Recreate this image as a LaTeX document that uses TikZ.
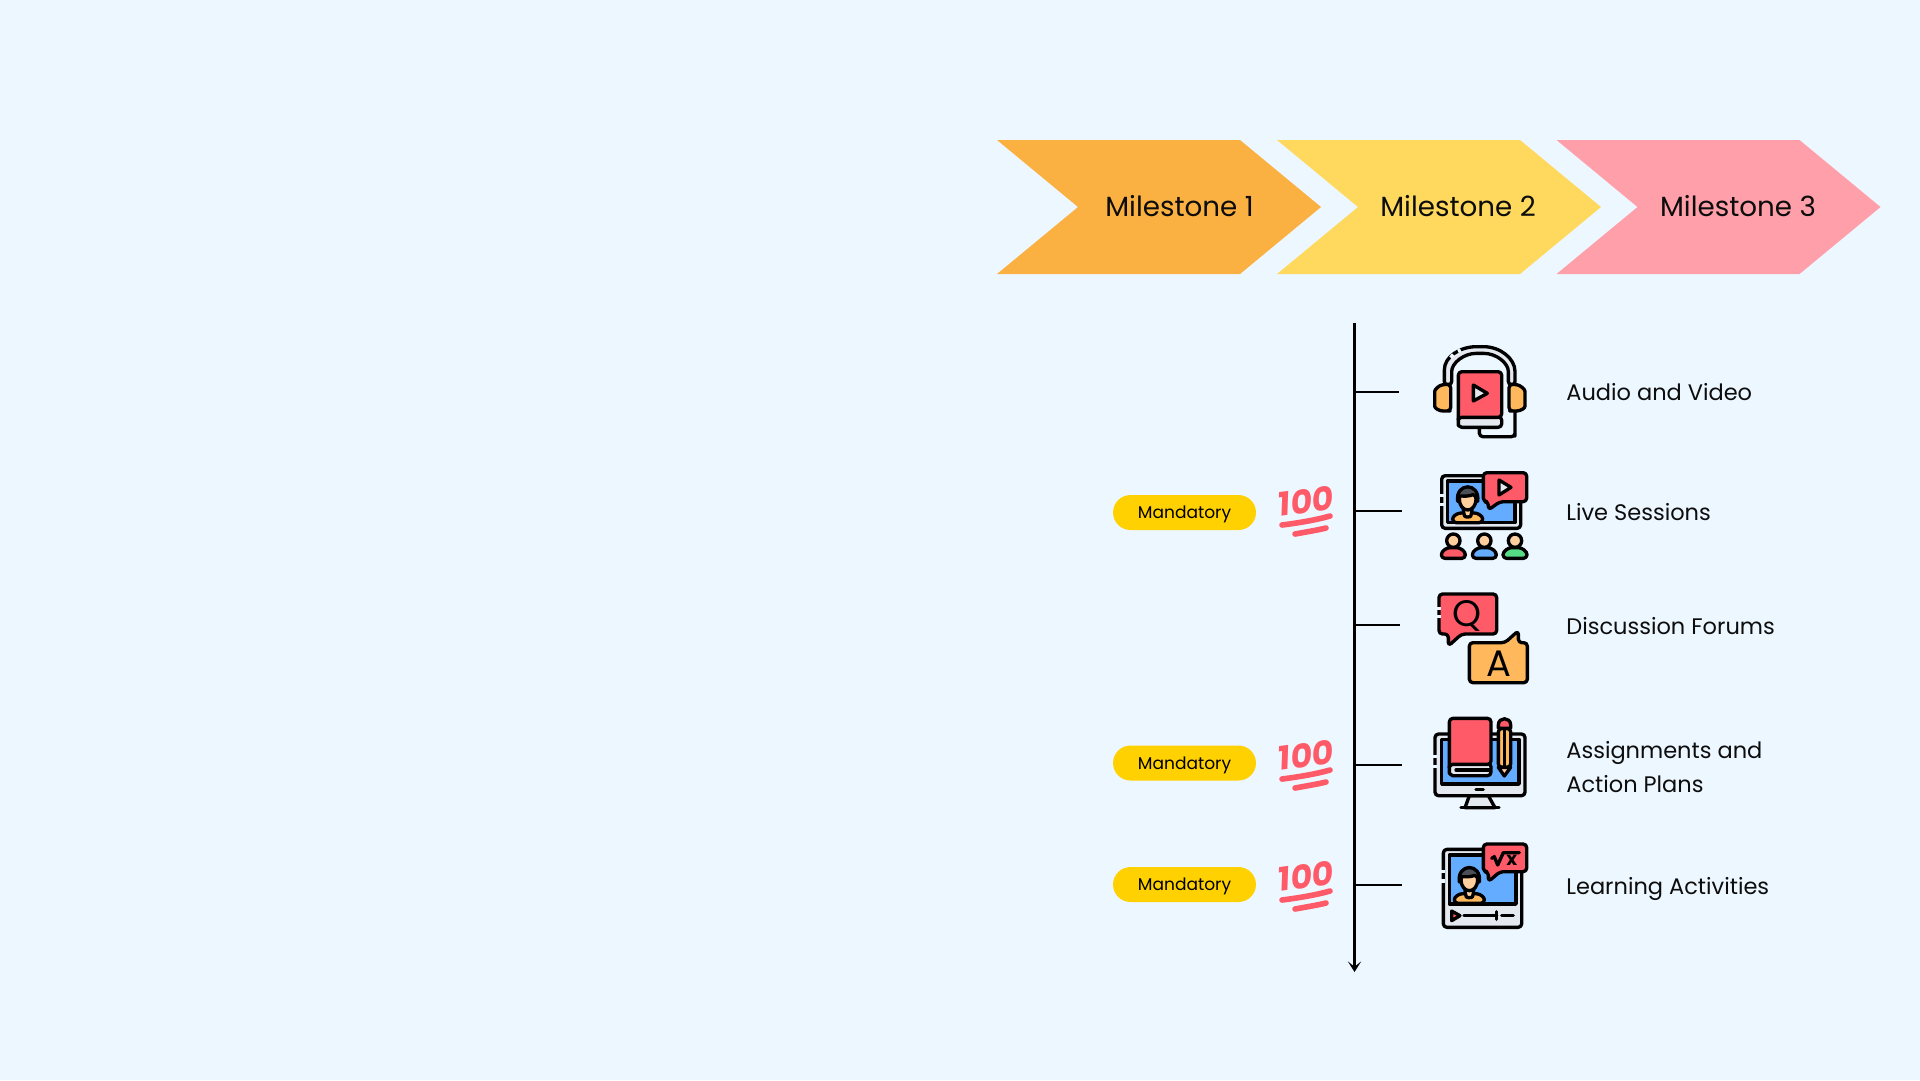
\documentclass[tikz,border=0pt]{standalone}
\usepackage{fontspec}
\setmainfont{Poppins}
\usepackage{xcolor}
\usetikzlibrary{arrows.meta, positioning}
\definecolor{mybackground}{RGB}{237, 247, 255}
\definecolor{myorange}{RGB}{250, 177, 65}
\definecolor{myyellow}{RGB}{255, 217, 94}
\definecolor{mypink}{RGB}{255, 159, 170}
\definecolor{mypill}{RGB}{255, 209, 0}
\definecolor{myred}{RGB}{255, 90, 103}
\definecolor{myamber}{RGB}{255, 184, 92}
\definecolor{myblue}{RGB}{100, 172, 255}
\definecolor{mygreen}{RGB}{85, 220, 133}
\definecolor{mygrey}{RGB}{228, 232, 239}
\definecolor{myskin}{RGB}{255, 207, 158}
\definecolor{myhair}{RGB}{74, 79, 87}
\tikzset{
    icon/.style={draw=black, line width=1.9pt, line join=round, line cap=round, rounded corners=2pt},
    sharp/.style={icon, rounded corners=0pt},
    gapline/.style={draw=#1, line width=2.2pt},
    label/.style={anchor=west, align=left, font=\fontsize{12.8}{19}\selectfont, inner sep=0pt, text=black!95},
    milestone/.style={font=\fontsize{15.8}{18}\selectfont, inner sep=0pt, text=black!95},
    pill/.style={fill=mypill, rounded corners=0.35cm, minimum width=2.86cm, minimum height=0.7cm, inner sep=0pt, text height=8.6pt, text depth=1.6pt, font=\fontsize{9.7}{12}\selectfont},
    hundred/.pic={
        \node[rotate=8, text=myred, inner sep=0pt, font=\fontsize{19}{20}\selectfont\bfseries\itshape] (-digits) at (0,-9) {100};
        \draw[myred, line width=3.2pt, line cap=round] (-24,15) .. controls (-8,13) and (10,10) .. (24,6);
        \draw[myred, line width=3.2pt, line cap=round] (-11,24) .. controls (0,22) and (12,20) .. (20,18);
    },
    bust/.pic={
        \draw[icon, fill=myamber] (-45,70) .. controls (-45,50) and (-32,43) .. (-15,40) -- (15,40) .. controls (32,43) and (45,50) .. (45,70) -- cycle;
        \draw[icon, fill=myskin] (-13,22) -- (-13,40) .. controls (-8,54) and (8,54) .. (13,40) -- (13,22) -- cycle;
        \draw[sharp, fill=myskin] (0,0) ellipse (25 and 32);
        \draw[sharp, fill=myhair] (-30,6) .. controls (-38,-52) and (38,-52) .. (30,6) .. controls (28,-6) and (22,-12) .. (16,-14) .. controls (2,-8) and (-12,-10) .. (-22,-10) .. controls (-26,-6) and (-28,0) .. (-30,6) -- cycle;
    }
}

\begin{document}
\begin{tikzpicture}[x=0.02cm, y=-0.02cm]

    % Background
    \fill[mybackground] (0,0) rectangle (1920,1080);

    % Chevrons
    \foreach \cx/\cc in {997/myorange, 1277/myyellow, 1556.5/mypink} {
        \fill[\cc] (\cx,140) -- ++(243,0) -- ++(81,67) -- ++(-81,67) -- ++(-243,0) -- ++(81,-67) -- cycle;
    }
    \node[milestone] (milestone1) at (1179.5,206) {Milestone 1};
    \node[milestone] (milestone2) at (1458,206) {Milestone 2};
    \node[milestone] (milestone3) at (1738,206) {Milestone 3};

    % Timeline
    \coordinate (axistop) at (1354.5,323);
    \coordinate (axisend) at (1354.5,972);
    \draw[line width=1.6pt, -{Stealth[length=6pt, width=7.5pt, inset=3pt]}] (axistop) -- (axisend);

    \coordinate (tickstart1) at (1354.5,392);
    \coordinate (tickend1) at (1399,392);
    \coordinate (tickstart2) at (1354.5,511);
    \coordinate (tickend2) at (1402,511);
    \coordinate (tickstart3) at (1354.5,625);
    \coordinate (tickend3) at (1400,625);
    \coordinate (tickstart4) at (1354.5,765);
    \coordinate (tickend4) at (1402,765);
    \coordinate (tickstart5) at (1354.5,885);
    \coordinate (tickend5) at (1402,885);
    \foreach \t in {1,...,5} {
        \draw[line width=1pt] (tickstart\t) -- (tickend\t);
    }

    % Labels
    \node[label] (audio) at (1566,392) {Audio and Video};
    \node[label] (live) at (1566,512) {Live Sessions};
    \node[label] (forums) at (1566,626) {Discussion Forums};
    \node[label] (assignments) at (1566,767) {Assignments and\\Action Plans};
    \node[label] (activities) at (1566,888.5) {Learning Activities};

    % Mandatory marks
    \node[pill] (mandatory1) at (1184.5,512.5) {Mandatory};
    \node[pill] (mandatory2) at (1184.5,763) {Mandatory};
    \node[pill] (mandatory3) at (1184.5,884.5) {Mandatory};
    \pic at (1306,510) {hundred};
    \pic at (1306,764) {hundred};
    \pic at (1306,885) {hundred};

    % Headphones and book
    \begin{scope}[shift={(1400,320)}, scale=1/3]
        \draw[icon, fill=mygrey] (133,195) -- (133,160) .. controls (133,110) and (180,80) .. (240,80) .. controls (300,80) and (345,115) .. (345,165) -- (345,195) -- (325,195) -- (325,165) .. controls (325,130) and (290,100) .. (240,100) .. controls (190,100) and (155,130) .. (155,165) -- (155,195) -- cycle;
        \draw[gapline=mybackground] (152,113) -- (160,104);
        \draw[gapline=mybackground] (174,94) -- (182,90);
        \draw[icon] (345,270) -- (345,338) -- (345,350) -- (238,350) -- (238,322);
        \draw[icon, fill=myamber] (152,193) -- (140,193) .. controls (118,195) and (104,208) .. (104,225) -- (104,248) .. controls (104,265) and (118,273) .. (140,273) -- (152,273) -- cycle;
        \draw[icon, fill=myamber] (327,193) -- (339,193) .. controls (361,195) and (375,208) .. (375,225) -- (375,248) .. controls (375,265) and (361,273) .. (339,273) -- (327,273) -- cycle;
        \draw[icon, fill=mygrey] (305,290) -- (196,290) .. controls (182,290) and (175,297) .. (175,306) .. controls (175,315) and (182,322) .. (196,322) -- (305,322) -- cycle;
        \draw[icon, fill=myred] (175,306) -- (175,155) -- (305,155) -- (305,292) -- (196,292) .. controls (182,292) and (175,297) .. (175,306) -- cycle;
        \draw[sharp, fill=mygrey] (220,195) -- (262,220) -- (220,243) -- cycle;
    \end{scope}

    % Live session screen
    \begin{scope}[shift={(1400,450)}, scale=1/3]
        \draw[icon, fill=mygrey] (125,77) rectangle (362,235);
        \draw[gapline=mybackground] (125,133) -- (125,142);
        \draw[gapline=mybackground] (125,158) -- (125,167);
        \draw[sharp, fill=myblue] (142,93) rectangle (345,218);
        \pic[transform shape] at (203,148) {bust};
        \draw[icon, fill=myred] (250,68) -- (380,68) -- (380,155) -- (300,155) -- (265,180) -- (265,155) -- (250,155) -- cycle;
        \draw[sharp, fill=mygrey] (297,90) -- (333,112) -- (297,135) -- cycle;
        \foreach \px/\pc in {160/myred, 253/myblue, 345/mygreen} {
            \draw[icon, fill=\pc] (\px-36,325) .. controls (\px-36,303) and (\px-20,293) .. (\px,293) .. controls (\px+20,293) and (\px+36,303) .. (\px+36,325) -- cycle;
            \draw[sharp, fill=myskin] (\px,272) circle (20);
        }
    \end{scope}

    % Question and answer bubbles
    \begin{scope}[shift={(1400,580)}, scale=1/3]
        \draw[icon, fill=myamber] (208,188) -- (315,188) -- (355,152) -- (355,188) -- (382,188) -- (382,308) -- (208,308) -- cycle;
        \draw[icon, fill=myred] (117,42) -- (290,42) -- (290,162) -- (185,162) -- (145,198) -- (145,162) -- (117,162) -- cycle;
        \draw[gapline=mybackground] (117,82) -- (117,91);
        \draw[gapline=mybackground] (117,106) -- (117,115);
        \node[font=\fontsize{21}{21}\selectfont, inner sep=0pt] (questionmark) at (200,109) {Q};
        \node[font=\fontsize{21}{21}\selectfont, inner sep=0pt] (answermark) at (296,252) {A};
    \end{scope}

    % Monitor, book and pencil
    \begin{scope}[shift={(1400,705)}, scale=1/3]
        \draw[sharp, fill=mygrey] (208,272) -- (195,308) -- (285,308) -- (265,272) -- cycle;
        \draw[icon] (183,308) -- (297,308);
        \draw[icon, fill=mygrey] (105,87) rectangle (375,272);
        \draw[gapline=mybackground] (105,150) -- (105,160);
        \draw[gapline=mybackground] (105,180) -- (105,190);
        \draw[sharp, fill=myblue] (125,103) rectangle (357,237);
        \draw[icon] (228,253) -- (250,253);
        \draw[icon, fill=mygrey] (273,175) -- (168,175) .. controls (155,175) and (148,185) .. (148,194) .. controls (148,204) and (155,212) .. (168,212) -- (273,212) -- cycle;
        \draw[icon, fill=myred] (148,194) -- (148,40) -- (273,40) -- (273,178) -- (168,178) .. controls (155,178) and (148,185) .. (148,194) -- cycle;
        \draw[sharp] (168,195) -- (270,195);
        \draw[icon, fill=myamber] (295,70) -- (332,70) -- (332,187) -- (295,187) -- cycle;
        \draw[sharp] (313,70) -- (313,187);
        \draw[sharp, fill=myred] (295,70) -- (295,60) .. controls (295,35) and (332,35) .. (332,60) -- (332,70) -- cycle;
        \draw[sharp, fill=myskin] (295,187) -- (313,213) -- (332,187) -- cycle;
    \end{scope}

    % Learning video
    \begin{scope}[shift={(1400,830)}, scale=1/3]
        \draw[icon, fill=mygrey] (130,58) rectangle (365,292);
        \draw[gapline=mybackground] (130,120) -- (130,130);
        \draw[gapline=mybackground] (130,148) -- (130,158);
        \draw[sharp, fill=myblue] (148,75) rectangle (348,222);
        \pic[transform shape] at (208,150) {bust};
        \draw[icon, fill=myred] (250,42) -- (380,42) -- (380,125) -- (300,125) -- (265,155) -- (265,125) -- (250,125) -- cycle;
        \draw[sharp] (275,85) -- (283,80) -- (293,105) -- (310,68) -- (358,68);
        \node[font=\fontsize{10.5}{12}\selectfont\bfseries, inner sep=0pt] (formulax) at (335,91) {x};
        \draw[sharp, fill=myred] (155,243) -- (180,257) -- (155,272) -- cycle;
        \draw[icon] (192,257) -- (290,257);
        \draw[icon] (290,245) -- (290,268);
        \draw[icon] (305,257) -- (340,257);
    \end{scope}

\end{tikzpicture}
\end{document}
